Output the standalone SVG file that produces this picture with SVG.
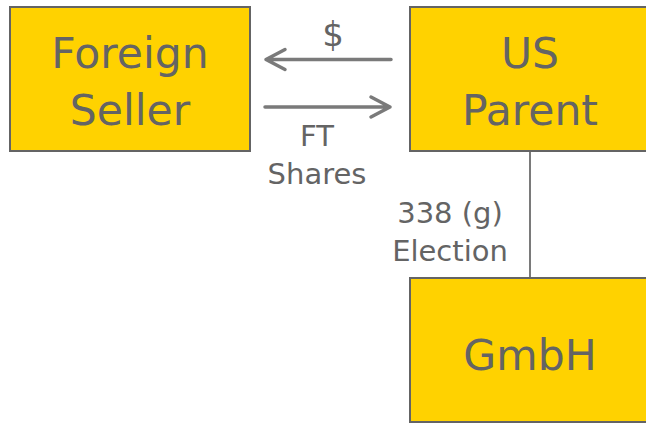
<svg xmlns="http://www.w3.org/2000/svg" width="646" height="423" viewBox="0 0 646 423">
  <style>
    .box { fill: #FFD200; stroke: #646464; stroke-width: 2; }
    .big { font-family: "DejaVu Sans", "Open Sans", sans-serif; font-size: 42.5px; fill: #646464; text-anchor: middle; }
    .small { font-family: "DejaVu Sans", "Open Sans", sans-serif; font-size: 29px; fill: #646464; text-anchor: middle; }
    .dollar { font-family: "DejaVu Sans", "Open Sans", sans-serif; font-size: 34px; fill: #646464; text-anchor: middle; }
    .arrow { stroke: #7a7a7a; stroke-width: 3.5; fill: none; stroke-linecap: round; stroke-linejoin: round; }
    .link { stroke: #7a7a7a; stroke-width: 2; fill: none; }
  </style>
  <rect width="646" height="423" fill="#ffffff"/>

  <g id="connectors">
    <!-- payment: US Parent to Foreign Seller -->
    <path class="arrow" d="M391 59.5 H266 M285 49.5 L266 59.5 L285 69.5"/>
    <!-- shares: Foreign Seller to US Parent -->
    <path class="arrow" d="M265 107 H390 M371 97 L390 107 L371 117"/>
    <!-- ownership link US Parent to GmbH -->
    <line class="link" x1="530" y1="151" x2="530" y2="278"/>
    <text class="dollar" x="333" y="46">$</text>
    <text class="small" x="317" y="146">FT</text>
    <text class="small" x="317" y="184">Shares</text>
    <text class="small" x="450" y="223">338 (g)</text>
    <text class="small" x="450" y="261">Election</text>
  </g>

  <g id="foreign-seller">
    <rect class="box" x="10" y="7" width="240" height="144"/>
    <text class="big" x="130" y="68">Foreign</text>
    <text class="big" x="130" y="125">Seller</text>
  </g>

  <g id="us-parent">
    <rect class="box" x="410" y="7" width="240" height="144"/>
    <text class="big" x="530" y="68">US</text>
    <text class="big" x="530" y="125">Parent</text>
  </g>

  <g id="gmbh">
    <rect class="box" x="410" y="278" width="240" height="144"/>
    <text class="big" x="530" y="370">GmbH</text>
  </g>
</svg>
